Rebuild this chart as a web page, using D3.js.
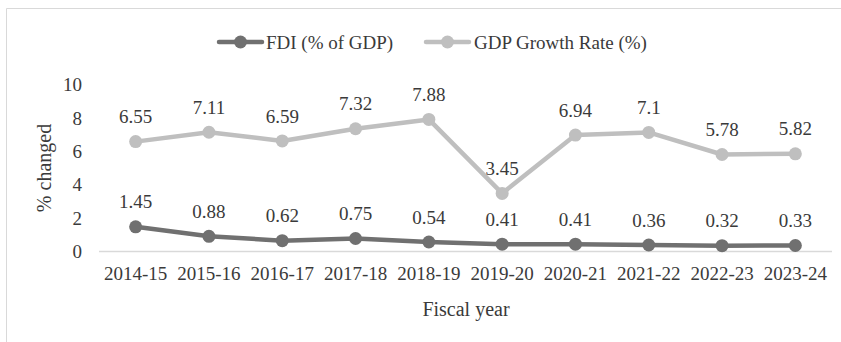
<!DOCTYPE html>
<html>
<head>
<meta charset="utf-8">
<script src="https://cdn.jsdelivr.net/npm/d3@7"></script>
<style>
  html, body { margin: 0; padding: 0; background: #fff; }
  svg { display: block; font-family: "Liberation Serif", "Times New Roman", serif; }
</style>
</head>
<body>
<svg id="chart" width="841" height="342"></svg>
<script>
// Fiscal years and the two series plotted against them
const years = ["2014-15","2015-16","2016-17","2017-18","2018-19","2019-20","2020-21","2021-22","2022-23","2023-24"];
const fdi = [1.45, 0.88, 0.62, 0.75, 0.54, 0.41, 0.41, 0.36, 0.32, 0.33];
const gdpGrowth = [6.55, 7.11, 6.59, 7.32, 7.88, 3.45, 6.94, 7.1, 5.78, 5.82];
const yTicks = [0, 2, 4, 6, 8, 10];

const series = [
  { name: "FDI (% of GDP)", values: fdi, color: "#707070" },
  { name: "GDP Growth Rate (%)", values: gdpGrowth, color: "#bfbfbf" }
];

const svg = d3.select("#chart");
const textColor = "#3a3a3a";
const fontSize = 19;

// outer frame
svg.append("path")
  .attr("d", "M6.5,342 L6.5,8.5 L841,8.5")
  .attr("fill", "none")
  .attr("stroke", "#d9d9d9")
  .attr("stroke-width", 1);

const x = d3.scaleBand().domain(years).range([99, 832]);
const y = d3.scaleLinear().domain([0, 10]).range([251, 84]);

// baseline
svg.append("line")
  .attr("x1", x.range()[0]).attr("x2", x.range()[1])
  .attr("y1", y(0) + 0.5).attr("y2", y(0) + 0.5)
  .attr("stroke", "#d9d9d9").attr("stroke-width", 1.5);

// y axis labels
const yAxis = d3.axisLeft(y).tickValues(yTicks).tickSize(0).tickPadding(0);
const yg = svg.append("g").attr("transform", "translate(82,0)").call(yAxis);
yg.select(".domain").remove();
yg.selectAll("text")
  .attr("font-family", "Liberation Serif, serif")
  .attr("font-size", fontSize)
  .attr("fill", textColor)
  .attr("dy", "0.35em");

// x axis labels
const xAxis = d3.axisBottom(x).tickSize(0).tickPadding(0);
const xg = svg.append("g").attr("transform", `translate(0,${y(0)})`).call(xAxis);
xg.select(".domain").remove();
xg.selectAll("text")
  .attr("font-family", "Liberation Serif, serif")
  .attr("font-size", fontSize)
  .attr("fill", textColor)
  .attr("y", 22)
  .attr("dy", "0.35em");

// axis titles
svg.append("text")
  .attr("transform", "translate(44,168) rotate(-90)")
  .attr("text-anchor", "middle")
  .attr("dy", "0.35em")
  .attr("font-size", 20)
  .attr("fill", textColor)
  .text("% changed");

svg.append("text")
  .attr("x", 466).attr("y", 309)
  .attr("text-anchor", "middle")
  .attr("dy", "0.35em")
  .attr("font-size", 20)
  .attr("fill", textColor)
  .text("Fiscal year");

// lines, markers, value labels
const cx = d => x(d) + x.bandwidth() / 2;
const line = d3.line().x((v, i) => cx(years[i])).y(v => y(v));

series.forEach(s => {
  const g = svg.append("g");
  g.append("path")
    .attr("d", line(s.values))
    .attr("fill", "none")
    .attr("stroke", s.color)
    .attr("stroke-width", 4.5)
    .attr("stroke-linejoin", "round")
    .attr("stroke-linecap", "round");
  g.selectAll("circle")
    .data(s.values)
    .join("circle")
    .attr("cx", (v, i) => cx(years[i]))
    .attr("cy", v => y(v))
    .attr("r", 6.5)
    .attr("fill", s.color);
  g.selectAll("text.lbl")
    .data(s.values)
    .join("text")
    .attr("class", "lbl")
    .attr("x", (v, i) => cx(years[i]))
    .attr("y", v => y(v) - 25)
    .attr("dy", "0.35em")
    .attr("text-anchor", "middle")
    .attr("font-size", fontSize)
    .attr("fill", textColor)
    .text(v => v);
});

// legend
const legendItems = [
  { s: series[0], x0: 219, tx: 266 },
  { s: series[1], x0: 426, tx: 474 }
];
legendItems.forEach(it => {
  const g = svg.append("g");
  g.append("line")
    .attr("x1", it.x0).attr("x2", it.x0 + 43)
    .attr("y1", 42).attr("y2", 42)
    .attr("stroke", it.s.color).attr("stroke-width", 4.5)
    .attr("stroke-linecap", "round");
  g.append("circle")
    .attr("cx", it.x0 + 21.5).attr("cy", 42).attr("r", 6.5)
    .attr("fill", it.s.color);
  g.append("text")
    .attr("x", it.tx).attr("y", 42)
    .attr("dy", "0.35em")
    .attr("font-size", fontSize)
    .attr("fill", textColor)
    .text(it.s.name);
});
</script>
</body>
</html>
